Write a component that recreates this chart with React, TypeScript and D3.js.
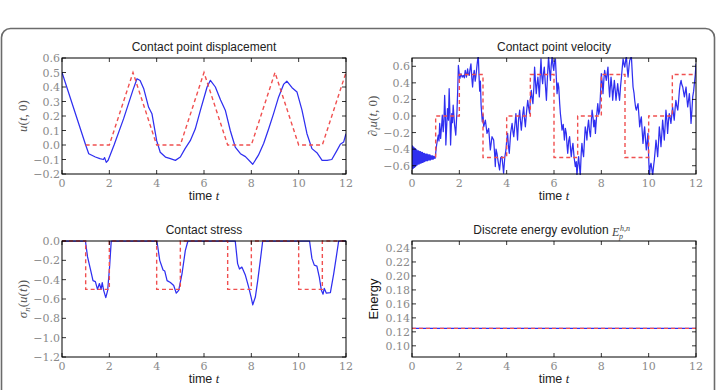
import React, { useEffect, useRef } from "react";
import * as d3 from "d3";

// time axis ticks shared by all panels
const timeTicks = [0, 2, 4, 6, 8, 10, 12];

// contact point displacement: computed (blue) and exact (red dashed)
const dispComputed: [number, number][] = [
  [0, 0.5], [1.0, 0.0], [1.13, -0.06], [1.41, -0.083], [1.6, -0.094], [1.75, -0.1],
  [1.8, -0.087], [1.87, -0.12], [1.95, -0.105], [2.2, -0.0], [2.6, 0.18], [3.0, 0.38],
  [3.17, 0.457], [3.3, 0.445], [3.45, 0.39], [3.66, 0.26], [3.8, 0.216], [4.0, 0.03],
  [4.15, -0.05], [4.37, -0.083], [4.58, -0.094], [4.79, -0.106], [5.0, -0.083],
  [5.2, -0.025], [5.42, 0.03], [5.63, 0.11], [5.85, 0.24], [6.13, 0.4], [6.27, 0.446],
  [6.48, 0.4], [6.7, 0.31], [6.9, 0.24], [7.11, 0.1], [7.32, -0.014], [7.54, -0.06],
  [7.75, -0.08], [8.06, -0.133], [8.3, -0.07], [8.52, 0.01], [8.73, 0.11], [8.94, 0.216],
  [9.15, 0.33], [9.37, 0.42], [9.5, 0.44], [9.72, 0.395], [9.93, 0.365], [10.14, 0.24],
  [10.35, 0.078], [10.56, -0.025], [10.77, -0.053], [10.99, -0.106], [11.2, -0.106],
  [11.4, -0.1], [11.62, -0.037], [11.76, 0.005], [11.9, 0.02], [12, 0.078],
];
const dispExact: [number, number][] = [
  [1, 0], [2, 0], [3, 0.5], [4, 0], [5, 0], [6, 0.5], [7, 0], [8, 0], [9, 0.5],
  [10, 0], [11, 0], [12, 0.5],
];

// contact point velocity
const velComputed: [number, number][] = [
  [0, -0.35], [0.02, -0.64], [0.04, -0.37], [0.06, -0.63], [0.08, -0.38], [0.1, -0.62],
  [0.12, -0.39], [0.14, -0.61], [0.16, -0.4], [0.18, -0.6], [0.2, -0.41], [0.22, -0.59],
  [0.24, -0.42], [0.26, -0.58], [0.28, -0.42], [0.3, -0.58], [0.32, -0.43], [0.34, -0.57],
  [0.36, -0.43], [0.38, -0.57], [0.4, -0.44], [0.42, -0.56], [0.44, -0.44], [0.46, -0.56],
  [0.48, -0.45], [0.5, -0.55], [0.52, -0.45], [0.54, -0.55], [0.56, -0.46], [0.58, -0.54],
  [0.6, -0.46], [0.62, -0.54], [0.64, -0.46], [0.66, -0.54], [0.68, -0.47], [0.7, -0.53],
  [0.72, -0.47], [0.74, -0.53], [0.76, -0.47], [0.78, -0.53], [0.8, -0.48], [0.82, -0.52],
  [0.84, -0.48], [0.86, -0.52], [0.88, -0.48], [0.9, -0.52], [0.92, -0.49], [0.94, -0.51],
  [0.96, -0.49], [0.98, -0.51], [1.0, -0.45],
  [1.04, -0.35], [1.08, -0.28], [1.11, -0.23], [1.14, -0.3], [1.17, -0.09], [1.21, -0.27],
  [1.25, -0.12], [1.28, 0.01], [1.32, -0.19], [1.35, -0.05], [1.38, 0.25], [1.41, 0.02],
  [1.43, -0.35], [1.47, -0.1], [1.5, 0.09], [1.54, -0.05], [1.57, 0.33], [1.6, 0.05],
  [1.63, -0.35], [1.68, 0.03], [1.71, -0.08], [1.74, 0.13], [1.77, 0.0], [1.8, -0.11],
  [1.85, -0.23], [1.88, -0.05], [1.9, 0.05], [1.93, 0.3], [1.96, 0.61], [2.02, 0.45],
  [2.07, 0.51], [2.12, 0.47], [2.17, 0.49], [2.21, 0.46], [2.25, 0.55], [2.3, 0.47],
  [2.35, 0.57], [2.38, 0.5], [2.42, 0.49], [2.45, 0.56], [2.49, 0.63], [2.53, 0.45],
  [2.56, 0.35], [2.6, 0.5], [2.63, 0.55], [2.67, 0.42], [2.7, 0.48], [2.75, 0.62],
  [2.8, 0.74], [2.83, 0.5], [2.86, 0.3], [2.89, 0.42], [2.92, 0.13], [2.97, -0.07],
  [3.0, 0.02], [3.03, -0.13], [3.1, -0.05], [3.17, -0.21], [3.24, -0.15], [3.31, -0.41],
  [3.38, -0.25], [3.45, -0.29], [3.49, -0.45], [3.52, -0.61], [3.55, -0.4], [3.59, -0.45],
  [3.64, -0.55], [3.7, -0.65], [3.75, -0.5], [3.8, -0.49], [3.84, -0.6], [3.87, -0.69],
  [3.92, -0.5], [3.97, -0.41], [4.0, -0.3], [4.04, -0.21], [4.07, -0.35], [4.11, -0.45],
  [4.17, -0.2], [4.23, -0.09], [4.27, -0.2], [4.3, -0.25], [4.35, -0.1], [4.39, 0.03],
  [4.42, -0.12], [4.46, -0.29], [4.5, -0.05], [4.55, 0.07], [4.58, -0.05], [4.62, -0.17],
  [4.67, 0.0], [4.72, 0.11], [4.75, -0.02], [4.79, -0.13], [4.84, 0.05], [4.89, 0.19],
  [4.93, 0.1], [4.97, 0.03], [5.0, 0.2], [5.04, 0.31], [5.08, 0.2], [5.11, 0.15],
  [5.15, 0.35], [5.18, 0.59], [5.22, 0.4], [5.25, 0.27], [5.29, 0.4], [5.32, 0.47],
  [5.35, 0.35], [5.38, 0.23], [5.42, 0.5], [5.45, 0.69], [5.48, 0.5], [5.52, 0.39],
  [5.55, 0.5], [5.59, 0.59], [5.63, 0.4], [5.68, 0.19], [5.72, 0.45], [5.77, 0.72],
  [5.81, 0.55], [5.85, 0.43], [5.88, 0.6], [5.92, 0.72], [5.96, 0.6], [5.99, 0.55],
  [6.02, 0.65], [6.06, 0.69], [6.1, 0.45], [6.13, 0.27], [6.17, 0.4], [6.2, 0.35],
  [6.24, 0.15], [6.27, 0.03], [6.3, -0.05], [6.34, -0.17], [6.39, -0.1], [6.44, -0.29],
  [6.48, -0.15], [6.52, -0.21], [6.55, -0.35], [6.58, -0.45], [6.62, -0.3], [6.66, -0.25],
  [6.7, -0.4], [6.73, -0.49], [6.77, -0.38], [6.8, -0.33], [6.85, -0.5], [6.9, -0.61],
  [6.94, -0.55], [6.97, -0.72], [7.0, -0.6], [7.04, -0.49], [7.08, -0.62], [7.11, -0.72],
  [7.15, -0.45], [7.18, -0.33], [7.21, -0.42], [7.25, -0.49], [7.29, -0.28], [7.32, -0.13],
  [7.36, -0.2], [7.39, -0.29], [7.42, -0.15], [7.46, -0.05], [7.5, -0.18], [7.54, -0.25],
  [7.58, -0.05], [7.61, 0.07], [7.65, -0.02], [7.68, -0.13], [7.72, -0.05], [7.75, -0.21],
  [7.8, 0.0], [7.85, 0.15], [7.89, 0.02], [7.93, 0.07], [7.97, 0.3], [8.0, 0.51],
  [8.04, 0.4], [8.07, 0.27], [8.11, 0.45], [8.14, 0.55], [8.18, 0.48], [8.21, 0.43],
  [8.25, 0.52], [8.28, 0.59], [8.31, 0.4], [8.35, 0.23], [8.38, 0.35], [8.41, 0.47],
  [8.45, 0.33], [8.48, 0.19], [8.51, 0.3], [8.55, 0.43], [8.59, 0.3], [8.62, 0.19],
  [8.66, 0.3], [8.69, 0.39], [8.73, 0.28], [8.77, 0.19], [8.81, 0.35], [8.85, 0.47],
  [8.89, 0.6], [8.92, 0.69], [8.96, 0.62], [8.99, 0.59], [9.03, 0.68], [9.06, 0.72],
  [9.1, 0.55], [9.13, 0.47], [9.17, 0.6], [9.2, 0.67], [9.24, 0.7], [9.27, 0.72],
  [9.31, 0.5], [9.34, 0.35], [9.38, 0.28], [9.41, 0.19], [9.45, 0.1], [9.48, 0.07],
  [9.52, 0.12], [9.55, 0.15], [9.59, 0.0], [9.62, -0.13], [9.66, -0.05], [9.69, -0.01],
  [9.73, -0.2], [9.76, -0.33], [9.8, -0.2], [9.83, -0.13], [9.87, -0.3], [9.9, -0.41],
  [9.94, -0.3], [9.97, -0.21], [10.0, -0.5], [10.03, -0.72], [10.07, -0.6], [10.1, -0.57],
  [10.14, -0.65], [10.17, -0.72], [10.21, -0.6], [10.24, -0.53], [10.28, -0.4], [10.31, -0.29],
  [10.35, -0.4], [10.38, -0.49], [10.42, -0.3], [10.45, -0.13], [10.49, -0.25], [10.52, -0.37],
  [10.56, -0.2], [10.59, -0.05], [10.63, -0.18], [10.66, -0.29], [10.7, -0.1], [10.73, 0.07],
  [10.77, -0.05], [10.8, -0.21], [10.84, -0.05], [10.87, 0.03], [10.91, -0.03], [10.94, -0.09],
  [10.98, 0.02], [11.01, 0.11], [11.05, 0.02], [11.08, -0.05], [11.12, 0.1], [11.15, 0.19],
  [11.19, 0.12], [11.23, 0.07], [11.27, 0.2], [11.3, 0.31], [11.33, 0.38], [11.37, 0.43],
  [11.4, 0.38], [11.44, 0.35], [11.48, 0.28], [11.51, 0.23], [11.55, 0.3], [11.58, 0.35],
  [11.62, 0.2], [11.65, 0.11], [11.69, 0.2], [11.72, 0.27], [11.76, 0.1], [11.79, -0.09],
  [11.83, 0.08], [11.86, 0.23], [11.9, 0.3], [11.93, 0.39], [11.97, 0.5], [12.0, 0.63],
];
const velExact: [number, number][] = [
  [1, -0.5], [1, 0], [2, 0], [2, 0.5], [3, 0.5], [3, -0.5], [4, -0.5], [4, 0], [5, 0],
  [5, 0.5], [6, 0.5], [6, -0.5], [7, -0.5], [7, 0], [8, 0], [8, 0.5], [9, 0.5], [9, -0.5],
  [10, -0.5], [10, 0], [11, 0], [11, 0.5], [12, 0.5],
];

// contact stress
const stressComputed: [number, number][] = [
  [0, 0], [0.99, 0], [1.08, -0.165], [1.2, -0.29], [1.31, -0.41], [1.41, -0.42], [1.5, -0.5],
  [1.58, -0.44], [1.65, -0.5], [1.7, -0.43], [1.76, -0.51], [1.85, -0.586], [1.93, -0.51],
  [2.01, -0.27], [2.08, 0], [4.01, 0], [4.13, -0.2], [4.27, -0.3], [4.34, -0.31],
  [4.44, -0.41], [4.58, -0.43], [4.72, -0.46], [4.83, -0.54], [4.93, -0.51], [5.07, -0.34],
  [5.21, -0.1], [5.32, 0], [7.32, 0], [7.42, -0.234], [7.5, -0.29], [7.6, -0.27],
  [7.75, -0.355], [7.89, -0.48], [7.99, -0.58], [8.06, -0.66], [8.17, -0.58], [8.27, -0.41],
  [8.38, -0.2], [8.48, 0], [10.46, 0], [10.56, -0.18], [10.66, -0.25], [10.77, -0.26],
  [10.87, -0.37], [10.96, -0.51], [11.03, -0.55], [11.08, -0.49], [11.17, -0.54],
  [11.34, -0.535], [11.48, -0.34], [11.59, -0.165], [11.69, 0], [12, 0],
];
const stressExact: [number, number][] = [
  [0, 0], [1, 0], [1, -0.5], [2, -0.5], [2, 0], [4, 0], [4, -0.5], [5, -0.5], [5, 0],
  [7, 0], [7, -0.5], [8, -0.5], [8, 0], [10, 0], [10, -0.5], [11, -0.5], [11, 0], [12, 0],
];

// discrete energy
const energyComputed: [number, number][] = [[0, 0.125], [12, 0.125]];
const energyExact: [number, number][] = [[0, 0.125], [12, 0.125]];

const dispTicks = [-0.2, -0.1, 0, 0.1, 0.2, 0.3, 0.4, 0.5, 0.6];
const velTicks = [-0.6, -0.4, -0.2, 0, 0.2, 0.4, 0.6];
const stressTicks = [-1.2, -1.0, -0.8, -0.6, -0.4, -0.2, 0];
const energyTicks = [0.1, 0.12, 0.14, 0.16, 0.18, 0.2, 0.22, 0.24];

const W = 719;
const H = 390;
const SERIF = "'DejaVu Serif', serif";
const MATH = "'Liberation Serif', serif";
const SANS = "'Liberation Sans', Arial, sans-serif";

type Panel = {
  id: string;
  title: string;
  box: [number, number, number, number]; // left, top, right, bottom
  yDomain: [number, number];
  yTicks: number[];
  fmt: string;
  computed: [number, number][];
  exact: [number, number][];
  ylabel: string;
};

const panels: Panel[] = [
  { id: "p1", title: "Contact point displacement", box: [62, 58, 346, 174], yDomain: [-0.2, 0.6],
    yTicks: dispTicks, fmt: ".1f", computed: dispComputed, exact: dispExact, ylabel: "disp" },
  { id: "p2", title: "Contact point velocity", box: [412, 58, 696, 174], yDomain: [-0.7, 0.7],
    yTicks: velTicks, fmt: ".1f", computed: velComputed, exact: velExact, ylabel: "vel" },
  { id: "p3", title: "Contact stress", box: [62, 241, 346, 357], yDomain: [-1.2, 0],
    yTicks: stressTicks, fmt: ".1f", computed: stressComputed, exact: stressExact, ylabel: "stress" },
  { id: "p4", title: "Discrete energy evolution", box: [412, 241, 696, 357], yDomain: [0.084, 0.25],
    yTicks: energyTicks, fmt: ".2f", computed: energyComputed, exact: energyExact, ylabel: "energy" },
];

function App() {
  const ref = useRef<SVGSVGElement>(null);

  useEffect(() => {
    const svg = d3.select(ref.current);
    svg.selectAll("*").remove();

    svg.append("rect").attr("width", W).attr("height", H).attr("fill", "#fff");
    // rounded frame round the figure
    svg.append("rect")
      .attr("x", 1.5).attr("y", 28.5).attr("width", 713).attr("height", 420)
      .attr("rx", 9).attr("fill", "none").attr("stroke", "#6b6b6b").attr("stroke-width", 1.6);

    panels.forEach((p) => {
      const [l, t, r, b] = p.box;
      const x = d3.scaleLinear().domain([0, 12]).range([l, r]);
      const y = d3.scaleLinear().domain(p.yDomain).range([b, t]);
      const g = svg.append("g");

      g.append("clipPath").attr("id", `clip-${p.id}`)
        .append("rect").attr("x", l).attr("y", t - 1).attr("width", r - l).attr("height", b - t + 2);

      const line = d3.line<[number, number]>().x((d) => x(d[0])).y((d) => y(d[1]));

      g.append("path").datum(p.computed).attr("d", line)
        .attr("clip-path", `url(#clip-${p.id})`)
        .attr("fill", "none").attr("stroke", "#2f2ff0").attr("stroke-width", 1.25)
        .attr("stroke-linejoin", "round");
      g.append("path").datum(p.exact).attr("d", line)
        .attr("clip-path", `url(#clip-${p.id})`)
        .attr("fill", "none").attr("stroke", "#f05050").attr("stroke-width", 1.4)
        .attr("stroke-dasharray", "4,3");

      // ticks inside on all four sides
      const tk = g.append("g").attr("stroke", "#000").attr("stroke-width", 0.8);
      timeTicks.forEach((v) => {
        tk.append("line").attr("x1", x(v)).attr("x2", x(v)).attr("y1", b).attr("y2", b - 4);
        tk.append("line").attr("x1", x(v)).attr("x2", x(v)).attr("y1", t).attr("y2", t + 4);
      });
      p.yTicks.forEach((v) => {
        tk.append("line").attr("x1", l).attr("x2", l + 4).attr("y1", y(v)).attr("y2", y(v));
        tk.append("line").attr("x1", r).attr("x2", r - 4).attr("y1", y(v)).attr("y2", y(v));
      });

      g.append("rect").attr("x", l).attr("y", t).attr("width", r - l).attr("height", b - t)
        .attr("fill", "none").attr("stroke", "#000").attr("stroke-width", 1);

      const f = d3.format(p.fmt);
      g.selectAll(".xt").data(timeTicks).enter().append("text")
        .attr("x", (d) => x(d)).attr("y", b + 13)
        .attr("text-anchor", "middle").attr("font-family", SERIF).attr("font-size", 11)
        .attr("fill", "#8a8a8a").text((d) => String(d));
      g.selectAll(".yt").data(p.yTicks).enter().append("text")
        .attr("x", l - 2).attr("y", (d) => y(d) + 4)
        .attr("text-anchor", "end").attr("font-family", SERIF).attr("font-size", 11)
        .attr("fill", "#8a8a8a").text((d) => f(d));

      // title
      g.append("text").attr("x", (l + r) / 2 - (p.id === "p4" ? 13 : 0)).attr("y", t - 7)
        .attr("text-anchor", "middle").attr("font-family", SANS).attr("font-size", 12)
        .attr("fill", "#222").text(p.title);
      if (p.id === "p4") {
        const tx = (l + r) / 2 + 58;
        g.append("text").attr("x", tx).attr("y", t - 5).attr("font-family", MATH)
          .attr("font-style", "italic").attr("font-size", 12).attr("fill", "#444").text("E");
        g.append("text").attr("x", tx + 8).attr("y", t - 10).attr("font-family", MATH)
          .attr("font-style", "italic").attr("font-size", 8).attr("fill", "#444").text("h,n");
        g.append("text").attr("x", tx + 7).attr("y", t - 2).attr("font-family", MATH)
          .attr("font-style", "italic").attr("font-size", 8).attr("fill", "#444").text("p");
      }

      // x label
      const xl = g.append("text").attr("x", (l + r) / 2).attr("y", b + 26)
        .attr("text-anchor", "middle").attr("font-family", SANS).attr("font-size", 12.5).attr("fill", "#222");
      xl.append("tspan").text("time ");
      xl.append("tspan").attr("font-family", MATH).attr("font-style", "italic").text("t");

      // y label
      const cy = (t + b) / 2;
      const yl = g.append("text").attr("transform", `translate(${l - 35},${cy}) rotate(-90)`)
        .attr("text-anchor", "middle").attr("font-family", MATH).attr("font-size", 13).attr("fill", "#555");
      if (p.ylabel === "disp") {
        yl.append("tspan").attr("font-style", "italic").text("u");
        yl.append("tspan").text("(");
        yl.append("tspan").attr("font-style", "italic").text("t");
        yl.append("tspan").text(", 0)");
      } else if (p.ylabel === "vel") {
        yl.append("tspan").attr("font-style", "italic").text("∂");
        yl.append("tspan").attr("font-style", "italic").attr("font-size", 9).attr("dy", 3).text("t");
        yl.append("tspan").attr("font-style", "italic").attr("dy", -3).text("u");
        yl.append("tspan").text("(");
        yl.append("tspan").attr("font-style", "italic").text("t");
        yl.append("tspan").text(", 0)");
      } else if (p.ylabel === "stress") {
        yl.append("tspan").attr("font-style", "italic").text("σ");
        yl.append("tspan").attr("font-style", "italic").attr("font-size", 9).attr("dy", 3).text("n");
        yl.append("tspan").attr("dy", -3).text("(");
        yl.append("tspan").attr("font-style", "italic").text("u");
        yl.append("tspan").text("(");
        yl.append("tspan").attr("font-style", "italic").text("t");
        yl.append("tspan").text("))");
      } else {
        yl.attr("font-family", SANS).attr("fill", "#111").attr("font-size", 13)
          .attr("transform", `translate(${l - 30},${cy}) rotate(-90)`)
          .attr("dy", -4).text("Energy");
      }
    });
  }, []);

  return (
    <svg ref={ref} width={W} height={H}
      style={{ position: "absolute", left: 0, top: 0, display: "block" }} />
  );
}

export default App;
